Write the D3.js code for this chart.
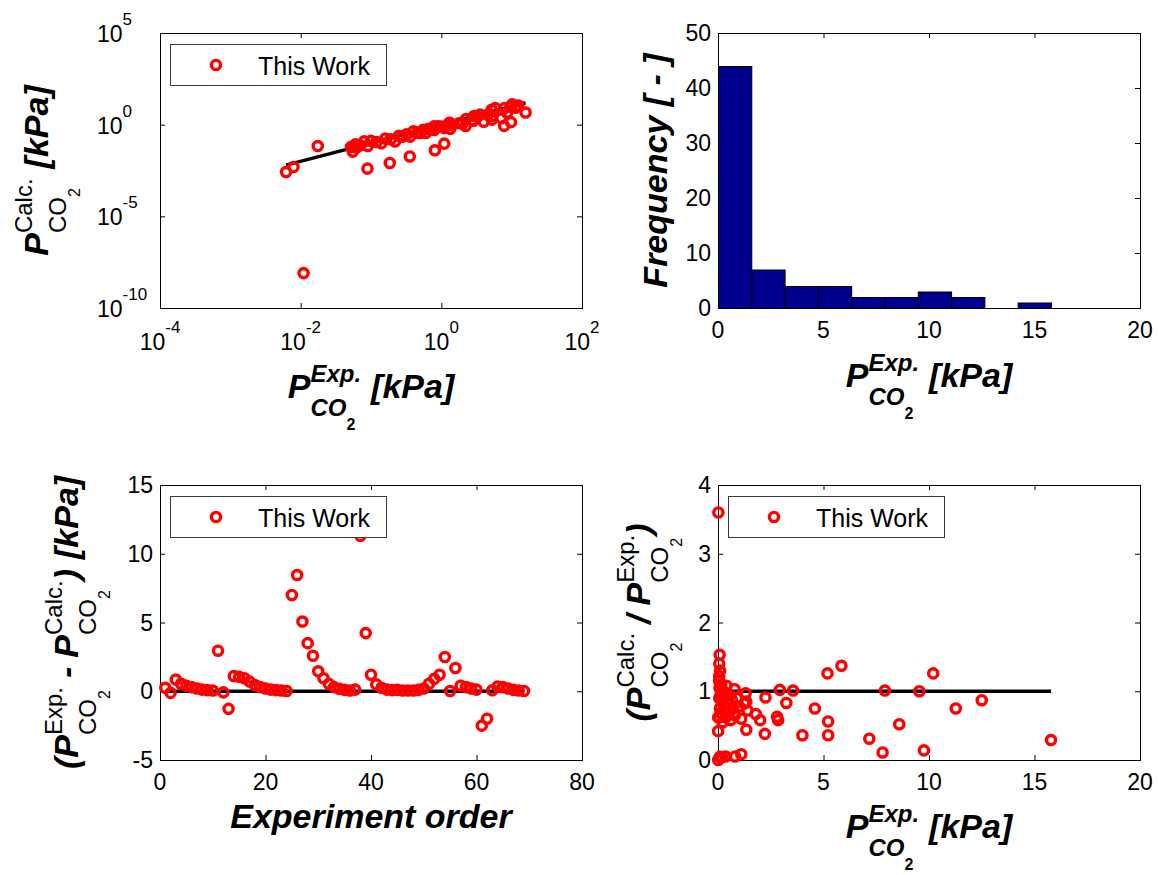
<!DOCTYPE html>
<html>
<head>
<meta charset="utf-8">
<script src="https://cdn.jsdelivr.net/npm/d3@7"></script>
<style>
body { margin: 0; background: #fff; }
svg { display: block; font-family: "Liberation Sans", Arial, Helvetica, sans-serif; }
</style>
</head>
<body>
<svg id="fig" width="1158" height="875"></svg>
<script>
// measured CO2 partial pressure [kPa] (panels 1 and 4 share it)
const pExp = [0.0062,0.0079,0.0175,0.011,0.089,0.185,0.356,0.81,1.1,0.08,
    0.06,0.79,1.31,1.34,1.34,0.052,0.055,0.058,0.062,0.07,
    0.09,0.1,0.12,0.14,0.16,0.19,0.22,0.25,0.28,0.32,
    0.36,0.4,0.45,0.5,0.55,0.6,0.65,0.72,0.8,0.9,
    1.0,1.1,1.25,1.4,2.25,2.93,2.22,1.79,2.0,2.8,
    2.85,3.56,3.24,4.59,4.0,5.19,5.85,5.22,5.22,7.17,
    7.8,7.91,8.59,9.54,9.76,10.2,11.27,12.5,15.78];
// calculated pressure [kPa] (panel 1)
const pCalc = [0.0026,0.0049,0.068,8e-9,0.004,0.0081,0.0185,0.04,0.092,0.122,
    0.084,0.81,1.27,1.14,0.59,0.06,0.034,0.071,0.056,0.074,
    0.068,0.13,0.114,0.095,0.176,0.16,0.121,0.25,0.218,0.294,
    0.223,0.432,0.369,0.35,0.52,0.348,0.572,0.54,0.52,0.81,
    0.78,0.66,1.025,1.01,2.05,2.99,0.84,1.2,1.16,1.76,
    1.65,3.6,2.69,3.44,1.44,6.54,8.01,2.92,1.88,2.22,
    0.86,7.99,4.47,9.54,1.37,12.85,8.45,10.9,4.58];
// calc / exp ratio (panel 4)
const ratio = [0.42,0.62,3.6,0.000001,0.045,0.044,0.052,0.05,0.084,1.53,
    1.40,1.03,0.97,0.85,0.44,1.15,0.62,1.22,0.9,1.05,
    0.75,1.3,0.95,0.68,1.1,0.85,0.55,1.0,0.78,0.92,
    0.62,1.08,0.82,0.7,0.95,0.58,0.88,0.75,0.65,0.9,
    0.78,0.6,0.82,0.72,0.91,1.02,0.38,0.67,0.58,0.63,
    0.58,1.01,0.83,0.75,0.36,1.26,1.37,0.56,0.36,0.31,
    0.11,1.01,0.52,1.0,0.14,1.26,0.75,0.87,0.29];
// exp - calc [kPa] in experiment order 1..69 (panel 3)
const residuals = [0.25,-0.12,0.85,0.55,0.4,0.3,0.2,0.12,0.08,0.05,
    2.95,-0.08,-1.28,1.1,1.05,0.95,0.7,0.45,0.3,0.2,
    0.12,0.08,0.05,0.02,7.0,8.45,5.07,3.5,2.58,1.45,
    0.95,0.55,0.3,0.18,0.1,0.05,0.12,11.3,4.23,1.2,
    0.5,0.25,0.12,0.08,0.1,0.05,0.05,0.05,0.1,0.2,
    0.55,0.9,1.2,2.49,0.02,1.69,0.4,0.3,0.2,0.12,
    -2.5,-2.0,0.07,0.35,0.3,0.2,0.1,0.05,0.02];
// histogram (panel 2)
const histEdges = [0,1.578,3.156,4.734,6.312,7.89,9.468,11.046,12.624,14.202,15.78];
const histCounts = [44,7,4,4,2,2,3,2,0,1];

// reference lines
const parityRange = [0.0062, 15.78];
const ratioRange = [0, 15.78];
const orderRange = [1, 69];

const logTicksX = [1e-4, 1e-2, 1, 1e2];
const logTicksY = [1e-10, 1e-5, 1, 1e5];
const histTicksX = [0, 5, 10, 15, 20];
const histTicksY = [0, 10, 20, 30, 40, 50];
const resTicksX = [0, 20, 40, 60, 80];
const resTicksY = [-5, 0, 5, 10, 15];
const ratTicksX = [0, 5, 10, 15, 20];
const ratTicksY = [0, 1, 2, 3, 4];

const svg = d3.select("#fig");
const W = 422, H = 275;
const RED = "#ff0000";
const MR = 4.6, MW = 3.4; // marker radius / ring width

function frame(left, top, x, y, xt, yt) {
    const g = svg.append("g");
    const ax = [
        [d3.axisBottom(x).tickValues(xt), `translate(0,${top + H})`],
        [d3.axisTop(x).tickValues(xt), `translate(0,${top})`],
        [d3.axisLeft(y).tickValues(yt), `translate(${left},0)`],
        [d3.axisRight(y).tickValues(yt), `translate(${left + W},0)`]
    ];
    ax.forEach(a => {
        g.append("g").attr("transform", a[1])
            .call(a[0].tickSizeInner(-5).tickSizeOuter(0).tickFormat(""));
    });
    g.selectAll(".domain").remove();
    g.selectAll(".tick line").attr("stroke", "#000").attr("stroke-width", 1);
    g.append("rect")
        .attr("x", left + 0.5).attr("y", top + 0.5)
        .attr("width", W).attr("height", H)
        .attr("fill", "none").attr("stroke", "#000");
}

function linTickLabels(left, top, x, y, xt, yt) {
    svg.append("g").selectAll("text").data(xt).join("text")
        .attr("x", d => x(d)).attr("y", top + H + 30)
        .attr("text-anchor", "middle").style("font-size", "23px")
        .text(d => d);
    svg.append("g").selectAll("text").data(yt).join("text")
        .attr("x", left - 7).attr("y", d => y(d) + 8)
        .attr("text-anchor", "end").style("font-size", "23px")
        .text(d => d);
}

function logTickLabels(left, top, x, y, xt, yt) {
    const xl = svg.append("g").selectAll("text").data(xt).join("text")
        .attr("x", d => x(d)).attr("y", top + H + 42)
        .attr("text-anchor", "middle").style("font-size", "23px");
    xl.append("tspan").text("10");
    xl.append("tspan").attr("dy", -17).style("font-size", "17px")
        .text(d => Math.round(Math.log10(d)));
    const yl = svg.append("g").selectAll("text").data(yt).join("text")
        .attr("x", left - 63).attr("y", d => y(d) + 9)
        .style("font-size", "23px");
    yl.append("tspan").text("10");
    yl.append("tspan").attr("dy", -17).style("font-size", "17px")
        .text(d => Math.round(Math.log10(d)));
}

function legend(left, top) {
    const g = svg.append("g");
    g.append("rect").attr("x", left + 10.5).attr("y", top + 11.5)
        .attr("width", 216).attr("height", 41)
        .attr("fill", "#fff").attr("stroke", "#3a3a3a");
    g.append("circle").attr("cx", left + 56).attr("cy", top + 32)
        .attr("r", MR).attr("fill", "none").attr("stroke", RED).attr("stroke-width", MW);
    g.append("text").attr("x", left + 98).attr("y", top + 42)
        .style("font-size", "25px").text("This Work");
}

function circles(xs, ys, x, y) {
    svg.append("g").selectAll("circle").data(xs).join("circle")
        .attr("cx", d => x(d)).attr("cy", (d, i) => y(ys[i]))
        .attr("r", MR).attr("fill", "none")
        .attr("stroke", RED).attr("stroke-width", MW);
}

// rich label: runs placed side by side, sup/sub stacks share a start
function placeRuns(g, runs, x0) {
    let x = x0;
    runs.forEach(r => {
        x += r.gap || 0;
        const t = g.append("text").attr("x", x).attr("y", r.dy || 0)
            .style("font-size", r.size + "px")
            .style("font-weight", r.bold ? "bold" : "normal")
            .style("font-style", r.italic ? "italic" : "normal")
            .text(r.t);
        x += t.node().getComputedTextLength();
    });
    return x;
}

function richLabel(cx, cy, angle, items) {
    const g = svg.append("g");
    const inner = g.append("g");
    let x = 0;
    items.forEach(it => {
        if (it.sup || it.sub) {
            const a = placeRuns(inner, it.sup || [], x);
            const b = placeRuns(inner, it.sub || [], x);
            x = Math.max(a, b);
        } else {
            x = placeRuns(inner, [it], x);
        }
    });
    inner.attr("transform", `translate(${-x / 2},0)`);
    g.attr("transform", `translate(${cx},${cy}) rotate(${angle})`);
}

const big = t => ({t: t, size: 34, bold: true, italic: true});
function pSym(sup, xStyle) {
    // P with superscript label and CO2 subscript
    const b = xStyle;
    return [big("P"), {
        sup: [{t: sup, size: 24, bold: b, italic: b, dy: -16}],
        sub: [{t: "CO", size: 24, bold: b, italic: b, dy: 18},
              {t: "2", size: 16, bold: b, dy: 32}]
    }];
}
const kpa = {t: "[kPa]", size: 34, bold: true, italic: true, gap: 10};

// ---------- panel 1: parity plot (log-log)
{
    const left = 160, top = 33;
    const x = d3.scaleLog().domain([1e-4, 1e2]).range([left, left + W]);
    const y = d3.scaleLog().domain([1e-10, 1e5]).range([top + H, top]);
    frame(left, top, x, y, logTicksX, logTicksY);
    svg.append("line")
        .attr("x1", x(parityRange[0])).attr("y1", y(parityRange[0]))
        .attr("x2", x(parityRange[1])).attr("y2", y(parityRange[1]))
        .attr("stroke", "#000").attr("stroke-width", 3.5);
    circles(pExp, pCalc, x, y);
    logTickLabels(left, top, x, y, logTicksX, logTicksY);
    legend(left, top);
    richLabel(371, 398, 0, [...pSym("Exp.", true), kpa]);
    richLabel(48, 170.5, -90, [...pSym("Calc.", false), kpa]);
}

// ---------- panel 2: histogram
{
    const left = 718, top = 33;
    const x = d3.scaleLinear().domain([0, 20]).range([left, left + W]);
    const y = d3.scaleLinear().domain([0, 50]).range([top + H, top]);
    frame(left, top, x, y, histTicksX, histTicksY);
    svg.append("g").selectAll("rect").data(histCounts).join("rect")
        .attr("x", (d, i) => x(histEdges[i]) + 0.5)
        .attr("y", d => y(d) + 0.5)
        .attr("width", (d, i) => x(histEdges[i + 1]) - x(histEdges[i]))
        .attr("height", d => y(0) - y(d))
        .attr("fill", "#00008f").attr("stroke", "#000").attr("stroke-width", 1);
    linTickLabels(left, top, x, y, histTicksX, histTicksY);
    richLabel(929, 387, 0, [...pSym("Exp.", true), kpa]);
    richLabel(667, 170.5, -90, [big("Frequency [ - ]")]);
}

// ---------- panel 3: residual vs experiment order
{
    const left = 160, top = 485;
    const x = d3.scaleLinear().domain([0, 80]).range([left, left + W]);
    const y = d3.scaleLinear().domain([-5, 15]).range([top + H, top]);
    frame(left, top, x, y, resTicksX, resTicksY);
    svg.append("line")
        .attr("x1", x(orderRange[0])).attr("y1", y(0))
        .attr("x2", x(orderRange[1])).attr("y2", y(0))
        .attr("stroke", "#000").attr("stroke-width", 3.5);
    circles(residuals.map((d, i) => i + 1), residuals, x, y);
    linTickLabels(left, top, x, y, resTicksX, resTicksY);
    legend(left, top);
    richLabel(371, 828, 0, [big("Experiment order")]);
    richLabel(78, 622.5, -90, [big("("), ...pSym("Exp.", false),
        {t: "-", size: 34, bold: true, italic: true, gap: 9},
        {t: "P", size: 34, bold: true, italic: true, gap: 9},
        ...pSym("Calc.", false).slice(1), big(")"), kpa]);
}

// ---------- panel 4: ratio vs experimental pressure
{
    const left = 718, top = 485;
    const x = d3.scaleLinear().domain([0, 20]).range([left, left + W]);
    const y = d3.scaleLinear().domain([0, 4]).range([top + H, top]);
    frame(left, top, x, y, ratTicksX, ratTicksY);
    svg.append("line")
        .attr("x1", x(ratioRange[0])).attr("y1", y(1))
        .attr("x2", x(ratioRange[1])).attr("y2", y(1))
        .attr("stroke", "#000").attr("stroke-width", 3.5);
    circles(pExp, ratio, x, y);
    linTickLabels(left, top, x, y, ratTicksX, ratTicksY);
    legend(left, top);
    richLabel(929, 838, 0, [...pSym("Exp.", true), kpa]);
    richLabel(650, 622.5, -90, [big("("), ...pSym("Calc.", false),
        {t: "/", size: 34, bold: true, italic: true, gap: 9},
        {t: "P", size: 34, bold: true, italic: true, gap: 9},
        ...pSym("Exp.", false).slice(1), big(")")]);
}
</script>
</body>
</html>
